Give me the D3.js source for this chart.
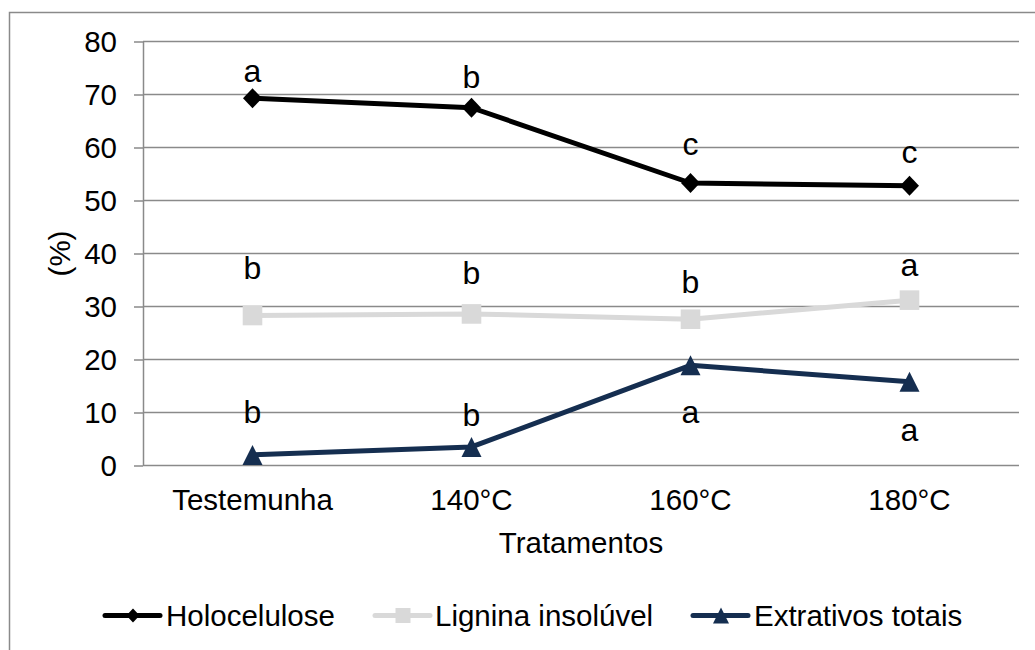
<!DOCTYPE html>
<html>
<head>
<meta charset="utf-8">
<script src="https://cdn.jsdelivr.net/npm/d3@7"></script>
<style>
  html, body { margin: 0; padding: 0; background: #fff; }
  svg { display: block; font-family: "Liberation Sans", Arial, sans-serif; }
</style>
</head>
<body>
<svg id="chart" width="1035" height="650"></svg>
<script>
// ---- data ----
const categories = ["Testemunha", "140°C", "160°C", "180°C"];
const yTicks = [0, 10, 20, 30, 40, 50, 60, 70, 80];

const holocelulose = [69.3, 67.5, 53.3, 52.8];
const lignina = [28.3, 28.6, 27.6, 31.2];
const extrativos = [2.0, 3.5, 18.9, 15.8];

const holoLetters = ["a", "b", "c", "c"];
const ligLetters = ["b", "b", "b", "a"];
const extLetters = ["b", "b", "a", "a"];

// letter label baselines, in data units (%)
const holoLabelAt = [72.4, 71.2, 58.6, 57.1];
const ligLabelAt = [35.1, 34.2, 32.5, 35.8];
const extLabelAt = [8.0, 7.5, 8.0, 4.6];

const seriesNames = ["Holocelulose", "Lignina insolúvel", "Extrativos totais"];
const xTitle = "Tratamentos";
const yTitle = "(%)";

// ---- layout ----
const svg = d3.select("#chart");
const plot = { left: 143, right: 1019, top: 41.5, bottom: 465.5 };
const gridColor = "#8a8a8a";
const textColor = "#000";
const fs = 29.5;

const x = d3.scaleBand().domain(categories).range([plot.left, plot.right]);
const y = d3.scaleLinear().domain([0, 80]).range([plot.bottom, plot.top]);

// outer frame
svg.append("rect")
  .attr("x", 9.5).attr("y", 12.5)
  .attr("width", 1100).attr("height", 700)
  .attr("fill", "none").attr("stroke", gridColor).attr("stroke-width", 1.5);

// gridlines
svg.append("g").selectAll("line").data(yTicks).join("line")
  .attr("x1", plot.left).attr("x2", plot.right)
  .attr("y1", d => y(d)).attr("y2", d => y(d))
  .attr("stroke", gridColor).attr("stroke-width", 1.5);

// y axis
const yAxis = svg.append("g")
  .attr("transform", `translate(${plot.left},0)`)
  .call(d3.axisLeft(y).tickValues(yTicks).tickSizeInner(9).tickSizeOuter(0).tickPadding(17));
yAxis.select(".domain").attr("stroke", gridColor).attr("stroke-width", 1.5);
yAxis.selectAll(".tick line").attr("stroke", gridColor).attr("stroke-width", 1.5);
yAxis.selectAll(".tick text")
  .attr("font-size", fs).attr("font-family", "Liberation Sans, Arial, sans-serif")
  .attr("fill", textColor).attr("dy", "0.35em");

// x axis labels
const xAxis = svg.append("g")
  .attr("transform", `translate(0,${plot.bottom})`)
  .call(d3.axisBottom(x).tickSizeInner(0).tickSizeOuter(0).tickPadding(24));
xAxis.select(".domain").remove();
xAxis.selectAll(".tick text")
  .attr("font-size", fs).attr("font-family", "Liberation Sans, Arial, sans-serif")
  .attr("fill", textColor);

// axis titles
svg.append("text")
  .attr("x", (plot.left + plot.right) / 2).attr("y", 552.5)
  .attr("text-anchor", "middle").attr("font-size", fs).attr("fill", textColor)
  .text(xTitle);
svg.append("text")
  .attr("transform", `translate(70,${(plot.top + plot.bottom) / 2}) rotate(-90)`)
  .attr("text-anchor", "middle").attr("font-size", fs).attr("fill", textColor)
  .text(yTitle);

// marker shapes
function diamond(s) { const w = s * 0.95, h = s; return `M0,${-h}L${w},0L0,${h}L${-w},0Z`; }
function square(s) { return `M${-s},${-s}L${s},${-s}L${s},${s}L${-s},${s}Z`; }
function triangle(s) { return `M0,${-s}L${s},${s}L${-s},${s}Z`; }

const series = [
  { name: seriesNames[0], values: holocelulose, letters: holoLetters, labelAt: holoLabelAt, color: "#000000", marker: diamond, mSize: 10, lgSize: 7 },
  { name: seriesNames[1], values: lignina, letters: ligLetters, labelAt: ligLabelAt, color: "#d9d9d9", marker: square, mSize: 9.8, lgSize: 7.5 },
  { name: seriesNames[2], values: extrativos, letters: extLetters, labelAt: extLabelAt, color: "#152e50", marker: triangle, mSize: 10, lgSize: 8 }
];

const cx = c => x(c) + x.bandwidth() / 2;
const line = d3.line().x((d, i) => cx(categories[i])).y(d => y(d));

series.forEach(s => {
  const g = svg.append("g");
  g.append("path")
    .attr("d", line(s.values))
    .attr("fill", "none").attr("stroke", s.color)
    .attr("stroke-width", 5).attr("stroke-linejoin", "round");
  g.selectAll("path.m").data(s.values).join("path")
    .attr("class", "m")
    .attr("transform", (d, i) => `translate(${cx(categories[i])},${y(d)})`)
    .attr("d", s.marker(s.mSize)).attr("fill", s.color);
  g.selectAll("text").data(s.letters).join("text")
    .attr("x", (d, i) => cx(categories[i]))
    .attr("y", (d, i) => y(s.labelAt[i]))
    .attr("text-anchor", "middle").attr("font-size", 32).attr("fill", textColor)
    .text(d => d);
});

// legend
const legendItems = [
  { x0: 105, tx: 166 },
  { x0: 375, tx: 435 },
  { x0: 693, tx: 754 }
];
const legendY = 615.5;
series.forEach((s, i) => {
  const it = legendItems[i];
  const g = svg.append("g");
  g.append("line")
    .attr("x1", it.x0).attr("x2", it.x0 + 55)
    .attr("y1", legendY).attr("y2", legendY)
    .attr("stroke", s.color).attr("stroke-width", 5).attr("stroke-linecap", "round");
  g.append("path")
    .attr("transform", `translate(${it.x0 + 28},${legendY})`)
    .attr("d", s.marker(s.lgSize)).attr("fill", s.color);
  g.append("text")
    .attr("x", it.tx).attr("y", legendY).attr("dy", "0.35em")
    .attr("font-size", fs).attr("fill", textColor)
    .text(s.name);
});
</script>
</body>
</html>
